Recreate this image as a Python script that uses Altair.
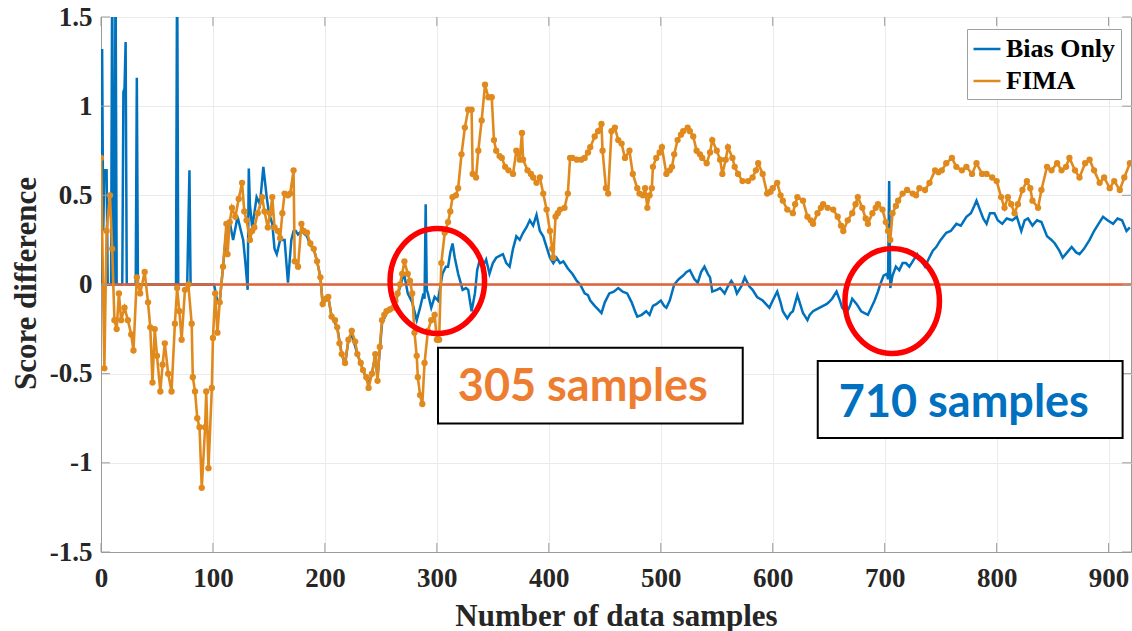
import altair as alt
import pandas as pd

# ---- data: score difference versus number of samples ----
fima_x = [0, 3, 5, 8, 10, 12, 14, 16, 18, 21, 24, 27, 29, 32, 35, 39, 42, 44, 46, 48,
          50, 53, 55, 57, 60, 63, 66, 68, 70, 72, 75, 78, 81, 82, 84, 86, 88, 90, 93, 94,
          96, 99, 100, 102, 104, 106, 109, 112, 113, 115, 117, 120, 123, 126, 128, 130, 133, 135, 137, 140,
          144, 146, 149, 151, 153, 155, 158, 160, 162, 164, 167, 169, 172, 173, 176, 179, 181, 184, 187, 190,
          193, 196, 198, 201, 203, 206, 209, 211, 213, 215, 218, 221, 224, 227, 229, 232, 234, 237, 239, 242,
          245, 247, 249, 251, 253, 255, 258, 261, 263, 265, 267, 269, 271, 274, 276, 278, 280, 282, 283, 285,
          287, 289, 292, 295, 298, 300, 302, 304, 307, 310, 312, 314, 317, 319, 322, 325, 328, 331, 332, 335,
          337, 340, 343, 346, 349, 351, 353, 356, 358, 361, 364, 368, 371, 374, 376, 377, 381, 384, 386, 389,
          392, 395, 398, 401, 403, 404, 406, 408, 410, 414, 417, 419, 421, 425, 429, 432, 435, 437, 441, 444,
          447, 448, 451, 453, 456, 459, 462, 465, 468, 472, 475, 479, 481, 484, 486, 488, 490, 492, 493, 496,
          499, 501, 505, 508, 510, 512, 515, 518, 520, 524, 526, 529, 532, 535, 537, 541, 544, 546, 550, 553,
          555, 558, 560, 564, 566, 569, 573, 578, 582, 585, 587, 591, 595, 598, 600, 604, 607, 609, 613, 618,
          620, 622, 627, 631, 634, 636, 640, 643, 645, 649, 654, 658, 661, 663, 667, 671, 674, 676, 680, 683,
          685, 689, 692, 694, 698, 701, 703, 705, 707, 710, 712, 716, 720, 725, 728, 731, 736, 740, 745, 748,
          751, 755, 760, 764, 769, 773, 778, 782, 787, 791, 796, 800, 804, 807, 810, 813, 816, 819, 823, 827,
          830, 832, 837, 840, 845, 849, 854, 858, 862, 865, 870, 874, 879, 883, 887, 892, 896, 901, 905, 910,
          914, 919]
fima_y = [0.71, -0.47, 0.3, 0.5, 0.2, -0.2, -0.25, -0.05, -0.2, -0.13, -0.2, -0.28, -0.37, 0.04, -0.05, 0.07, -0.1, -0.24, -0.55, -0.25,
          -0.4, -0.6, -0.45, -0.33, -0.5, -0.6, -0.22, -0.02, -0.15, -0.31, -0.03, 0.0, -0.22, -0.52, -0.6, -0.75, -0.8, -1.14, -0.8, -0.6,
          -1.03, -0.58, -0.3, -0.05, -0.27, -0.1, 0.1, 0.34, 0.17, 0.35, 0.43, 0.38, 0.48, 0.57, 0.41, 0.36, 0.25, 0.3, 0.32, 0.4,
          0.49, 0.41, 0.32, 0.4, 0.49, 0.32, 0.3, 0.26, 0.4, 0.51, 0.5, 0.51, 0.64, 0.13, 0.1, 0.34, 0.3, 0.29, 0.23, 0.2,
          0.13, 0.04, -0.11, -0.08, -0.07, -0.18, -0.2, -0.24, -0.33, -0.39, -0.44, -0.31, -0.26, -0.32, -0.39, -0.44, -0.48, -0.52, -0.58, -0.5,
          -0.39, -0.54, -0.35, -0.2, -0.17, -0.15, -0.14, -0.13, -0.09, -0.05, 0.0, 0.06, 0.13, 0.06, 0.02, -0.05, -0.27, -0.4, -0.52, -0.62,
          -0.67, -0.44, -0.26, -0.2, -0.17, -0.31, -0.31, 0.12, 0.29, 0.35, 0.41, 0.49, 0.5, 0.54, 0.73, 0.88, 0.98, 0.98, 0.62, 0.6,
          0.75, 0.92, 1.12, 1.05, 1.05, 0.81, 0.75, 0.72, 0.71, 0.66, 0.64, 0.62, 0.75, 0.7, 0.85, 0.7, 0.64, 0.62, 0.6, 0.57,
          0.6, 0.51, 0.42, 0.3, 0.2, 0.15, 0.38, 0.4, 0.42, 0.43, 0.51, 0.71, 0.71, 0.7, 0.7, 0.71, 0.74, 0.77, 0.83, 0.86,
          0.9, 0.75, 0.54, 0.51, 0.86, 0.88, 0.81, 0.79, 0.71, 0.75, 0.62, 0.54, 0.51, 0.5, 0.54, 0.43, 0.5, 0.54, 0.66, 0.71,
          0.74, 0.77, 0.62, 0.64, 0.66, 0.73, 0.81, 0.84, 0.86, 0.88, 0.86, 0.83, 0.75, 0.73, 0.71, 0.68, 0.74, 0.81, 0.75, 0.7,
          0.62, 0.7, 0.77, 0.71, 0.66, 0.62, 0.58, 0.58, 0.6, 0.64, 0.68, 0.62, 0.51, 0.52, 0.54, 0.57, 0.5, 0.47, 0.42, 0.4,
          0.45, 0.49, 0.47, 0.38, 0.36, 0.34, 0.4, 0.43, 0.45, 0.43, 0.42, 0.38, 0.33, 0.3, 0.36, 0.4, 0.45, 0.49, 0.43, 0.37,
          0.34, 0.4, 0.43, 0.45, 0.42, 0.35, 0.3, 0.25, 0.4, 0.44, 0.47, 0.51, 0.53, 0.51, 0.5, 0.54, 0.53, 0.57, 0.64, 0.63,
          0.64, 0.68, 0.71, 0.66, 0.64, 0.66, 0.62, 0.68, 0.62, 0.62, 0.6, 0.58, 0.49, 0.43, 0.49, 0.45, 0.4, 0.45, 0.53, 0.58,
          0.54, 0.47, 0.43, 0.53, 0.66, 0.64, 0.68, 0.64, 0.66, 0.71, 0.64, 0.6, 0.68, 0.7, 0.64, 0.57, 0.6, 0.54, 0.58, 0.53,
          0.6, 0.68]

bias_x = [0, 1, 2, 3, 5, 6, 9, 10, 11, 12, 13, 14, 19, 20, 21, 22, 23, 31, 32, 33,
          67, 68, 69, 77, 79, 80, 101, 104, 106, 109, 112, 115, 118, 122, 125, 127, 129, 131, 132, 133,
          135, 137, 139, 142, 145, 148, 150, 153, 155, 157, 160, 164, 167, 170, 172, 174, 176, 179, 184, 187,
          190, 193, 196, 198, 203, 206, 211, 215, 218, 221, 224, 229, 234, 239, 242, 245, 247, 251, 255, 261,
          265, 269, 271, 274, 278, 280, 282, 285, 288, 289, 290, 291, 292, 295, 298, 301, 305, 308, 310, 312,
          314, 316, 319, 323, 326, 328, 331, 334, 336, 338, 341, 344, 347, 350, 353, 356, 359, 362, 365, 368,
          371, 374, 377, 380, 383, 386, 389, 392, 395, 398, 401, 404, 407, 410, 413, 417, 421, 425, 428, 432,
          435, 437, 441, 444, 447, 450, 454, 458, 462, 466, 470, 474, 477, 479, 483, 487, 490, 493, 496, 500,
          503, 505, 508, 512, 516, 520, 523, 526, 530, 533, 536, 539, 542, 544, 546, 550, 553, 557, 560, 563,
          566, 568, 572, 575, 579, 582, 586, 591, 594, 597, 600, 604, 607, 609, 613, 616, 618, 622, 625, 627,
          631, 633, 636, 639, 642, 645, 648, 650, 653, 657, 660, 662, 666, 669, 671, 675, 679, 682, 685, 688,
          691, 694, 696, 699, 702, 703, 704, 705, 707, 710, 713, 716, 719, 722, 725, 729, 732, 736, 739, 743,
          746, 750, 755, 759, 764, 768, 773, 777, 780, 782, 785, 788, 791, 794, 798, 801, 805, 809, 814, 818,
          822, 825, 828, 832, 836, 840, 845, 849, 852, 856, 859, 863, 867, 871, 874, 878, 883, 887, 890, 895,
          899, 904, 908, 912, 916, 919]
bias_y = [0.0, 1.32, 0.3, 0.64, 0.64, 0.0, 0.0, 1.8, 0.0, 0.0, 1.8, 0.0, 0.0, 1.08, 1.1, 1.36, 0.0, 0.0, 1.16, 0.0,
          0.0, 1.9, 0.0, 0.0, 0.64, 0.0, 0.0, -0.1, -0.1, 0.1, 0.3, 0.35, 0.25, 0.38, 0.3, 0.25, 0.12, -0.03, 0.65, 0.45,
          0.32, 0.4, 0.49, 0.45, 0.66, 0.49, 0.4, 0.34, 0.2, 0.17, 0.25, 0.25, 0.01, 0.25, 0.3, 0.3, 0.28, 0.3, 0.27, 0.22,
          0.2, 0.13, 0.04, -0.11, -0.07, -0.18, -0.24, -0.39, -0.45, -0.31, -0.28, -0.39, -0.48, -0.56, -0.5, -0.4, -0.52, -0.22, -0.16, -0.13,
          -0.06, 0.03, 0.05, -0.05, -0.1, -0.15, -0.2, -0.13, -0.05, -0.08, 0.45, -0.03, -0.05, -0.13, -0.07, -0.09, 0.06, 0.1, 0.1, 0.18,
          0.23, 0.15, 0.06, -0.03, -0.02, -0.03, -0.15, -0.05, 0.08, 0.13, 0.1, 0.14, 0.06, 0.12, 0.15, 0.16, 0.17, 0.12, 0.1, 0.2,
          0.27, 0.25, 0.29, 0.32, 0.36, 0.33, 0.39, 0.3, 0.27, 0.21, 0.15, 0.12, 0.15, 0.12, 0.13, 0.09, 0.06, 0.02, 0.0, -0.05,
          -0.06, -0.09, -0.12, -0.14, -0.16, -0.1, -0.05, -0.04, -0.02, -0.04, -0.05, -0.1, -0.15, -0.18, -0.17, -0.15, -0.17, -0.12, -0.11, -0.09,
          -0.12, -0.13, -0.09, 0.0, 0.03, 0.05, 0.07, 0.08, 0.03, 0.01, 0.07, 0.1, 0.06, 0.04, -0.04, -0.03, -0.02, -0.05, -0.01, 0.02,
          -0.01, -0.05, -0.01, 0.04, -0.01, -0.03, -0.07, -0.09, -0.11, -0.13, -0.09, -0.04, -0.1, -0.15, -0.19, -0.16, -0.15, -0.06, -0.12, -0.16,
          -0.2, -0.17, -0.15, -0.14, -0.13, -0.12, -0.11, -0.1, -0.08, -0.04, -0.09, -0.13, -0.16, -0.12, -0.08, -0.11, -0.15, -0.16, -0.17, -0.13,
          -0.09, -0.04, 0.0, 0.05, 0.06, 0.03, 0.58, -0.02, 0.05, 0.1, 0.08, 0.12, 0.12, 0.1, 0.13, 0.17, 0.14, 0.1, 0.14, 0.19,
          0.21, 0.25, 0.29, 0.3, 0.34, 0.33, 0.38, 0.4, 0.44, 0.47, 0.42, 0.37, 0.34, 0.4, 0.4, 0.36, 0.34, 0.37, 0.36, 0.38,
          0.3, 0.36, 0.37, 0.33, 0.36, 0.35, 0.27, 0.25, 0.23, 0.19, 0.15, 0.18, 0.21, 0.18, 0.17, 0.2, 0.25, 0.3, 0.33, 0.38,
          0.36, 0.34, 0.37, 0.36, 0.3, 0.32]

series_names = ["Bias Only", "FIMA"]
x_ticks = [0, 100, 200, 300, 400, 500, 600, 700, 800, 900]
y_ticks = [-1.5, -1.0, -0.5, 0.0, 0.5, 1.0, 1.5]

# callouts: highlighted crossing points and their captions
callout_x = [300.4, 706.7]
callout_y = [0.02, -0.093]
caption_text = ["305 samples", "710 samples"]
caption_color = ["#ED7D31", "#0070C0"]
caption_x = [318.7, 659.0]
caption_y = [-0.653, -0.743]
box_x1 = [301.0, 640.2]
box_x2 = [573.2, 912.5]
box_y1 = [-0.355, -0.429]
box_y2 = [-0.78, -0.861]

BLUE = "#0072BD"
ORANGE = "#E08A1E"
ZERO = "#DD6236"
FRAME = "#9a9a9a"
INK = "#262626"
W, H = 1030, 535

bias = pd.DataFrame({"n": bias_x, "score": bias_y, "series": series_names[0]})
fima = pd.DataFrame({"n": fima_x, "score": fima_y, "series": series_names[1]})
callouts = pd.DataFrame({"n": callout_x, "score": callout_y})
captions = pd.DataFrame({"n": caption_x, "score": caption_y, "label": caption_text, "color": caption_color})
boxes = pd.DataFrame({"x1": box_x1, "x2": box_x2, "y1": box_y1, "y2": box_y2})
xt = pd.DataFrame({"n": x_ticks})
yt = pd.DataFrame({"score": y_ticks})

xs = alt.Scale(domain=[0, 920], nice=False, zero=False)
ys = alt.Scale(domain=[-1.5, 1.5], nice=False, zero=False)
cs = alt.Scale(domain=series_names, range=[BLUE, ORANGE])

serif = "Liberation Serif"
x_axis = alt.Axis(
    title="Number of data samples", values=x_ticks, format="d", ticks=False,
    labelFont=serif, labelFontSize=27, labelFontWeight="bold", labelColor=INK, labelPadding=13,
    titleFont=serif, titleFontSize=31, titleFontWeight="bold", titleColor=INK,
    titleX=515, titleY=73, titleBaseline="alphabetic", titleAlign="center",
    grid=True, gridColor="#ebebeb", gridWidth=1, domainColor=FRAME, labelFlush=False,
)
y_axis = alt.Axis(
    title="Score difference", values=y_ticks, labelExpr="'' + datum.value", ticks=False,
    labelFont=serif, labelFontSize=27, labelFontWeight="bold", labelColor=INK, labelPadding=9,
    titleFont=serif, titleFontSize=31, titleFontWeight="bold", titleColor=INK,
    titleX=-66, titleY=266, titleAngle=-90, titleBaseline="alphabetic", titleAlign="center",
    grid=True, gridColor="#ebebeb", gridWidth=1, domainColor=FRAME, labelFlush=False,
)
legend = alt.Legend(
    title=None, orient="none", legendX=866, legendY=12, direction="vertical",
    symbolType="stroke", symbolSize=729, symbolStrokeWidth=2.5,
    labelFont=serif, labelFontSize=26, labelFontWeight="bold", labelColor="black",
    labelOffset=4, rowPadding=4, padding=5, strokeColor="#a0a0a0", fillColor="white",
)

bias_line = alt.Chart(bias).mark_line(strokeWidth=2.5, clip=True).encode(
    x=alt.X("n:Q", scale=xs, axis=x_axis),
    y=alt.Y("score:Q", scale=ys, axis=y_axis),
    color=alt.Color("series:N", scale=cs, legend=legend),
    order="n:Q",
)
zero_line = alt.Chart(pd.DataFrame({"score": [0.0]})).mark_rule(color=ZERO, strokeWidth=2.5).encode(
    y=alt.Y("score:Q", scale=ys)
)
fima_line = alt.Chart(fima).mark_line(strokeWidth=2.6, clip=True).encode(
    x=alt.X("n:Q", scale=xs),
    y=alt.Y("score:Q", scale=ys),
    color=alt.Color("series:N", scale=cs, legend=legend),
    order="n:Q",
)
fima_dots = alt.Chart(fima).mark_circle(size=40, opacity=1, clip=True).encode(
    x=alt.X("n:Q", scale=xs),
    y=alt.Y("score:Q", scale=ys),
    color=alt.Color("series:N", scale=cs, legend=legend),
)

# inward-pointing tick marks on all four sides of the frame
tick_bottom = alt.Chart(xt).mark_rule(color=FRAME, strokeWidth=1).encode(
    x=alt.X("n:Q", scale=xs), y=alt.value(H), y2=alt.value(H - 9))
tick_top = alt.Chart(xt).mark_rule(color=FRAME, strokeWidth=1).encode(
    x=alt.X("n:Q", scale=xs), y=alt.value(0), y2=alt.value(9))
tick_left = alt.Chart(yt).mark_rule(color=FRAME, strokeWidth=1).encode(
    y=alt.Y("score:Q", scale=ys), x=alt.value(0), x2=alt.value(9))
tick_right = alt.Chart(yt).mark_rule(color=FRAME, strokeWidth=1).encode(
    y=alt.Y("score:Q", scale=ys), x=alt.value(W - 9), x2=alt.value(W))

ellipse = "M -0.9 0 A 0.9 1 0 1 0 0.9 0 A 0.9 1 0 1 0 -0.9 0 Z"
rings = alt.Chart(callouts).mark_point(
    shape=ellipse, size=11025, filled=False, stroke="#FF0000", strokeWidth=5.5, opacity=1
).encode(x=alt.X("n:Q", scale=xs), y=alt.Y("score:Q", scale=ys))

frames = alt.Chart(boxes).mark_rect(fill="white", stroke="black", strokeWidth=2).encode(
    x=alt.X("x1:Q", scale=xs), x2="x2:Q",
    y=alt.Y("y1:Q", scale=ys), y2="y2:Q",
)
labels = alt.Chart(captions).mark_text(
    align="left", baseline="alphabetic", font="Lato", fontWeight="bold", fontSize=45
).encode(
    x=alt.X("n:Q", scale=xs), y=alt.Y("score:Q", scale=ys),
    text="label:N", color=alt.Color("color:N", scale=None),
)

chart = alt.layer(
    bias_line, zero_line, fima_line, fima_dots,
    tick_bottom, tick_top, tick_left, tick_right,
    rings, frames, labels,
).properties(
    width=W, height=H,
    autosize=alt.AutoSizeParams(type="none"),
    padding={"left": 101, "top": 17, "right": 1, "bottom": 79},
    background="white",
).configure_view(stroke=FRAME, strokeWidth=1)

chart.save("out.html", embed_options={"renderer": "svg", "actions": False})
